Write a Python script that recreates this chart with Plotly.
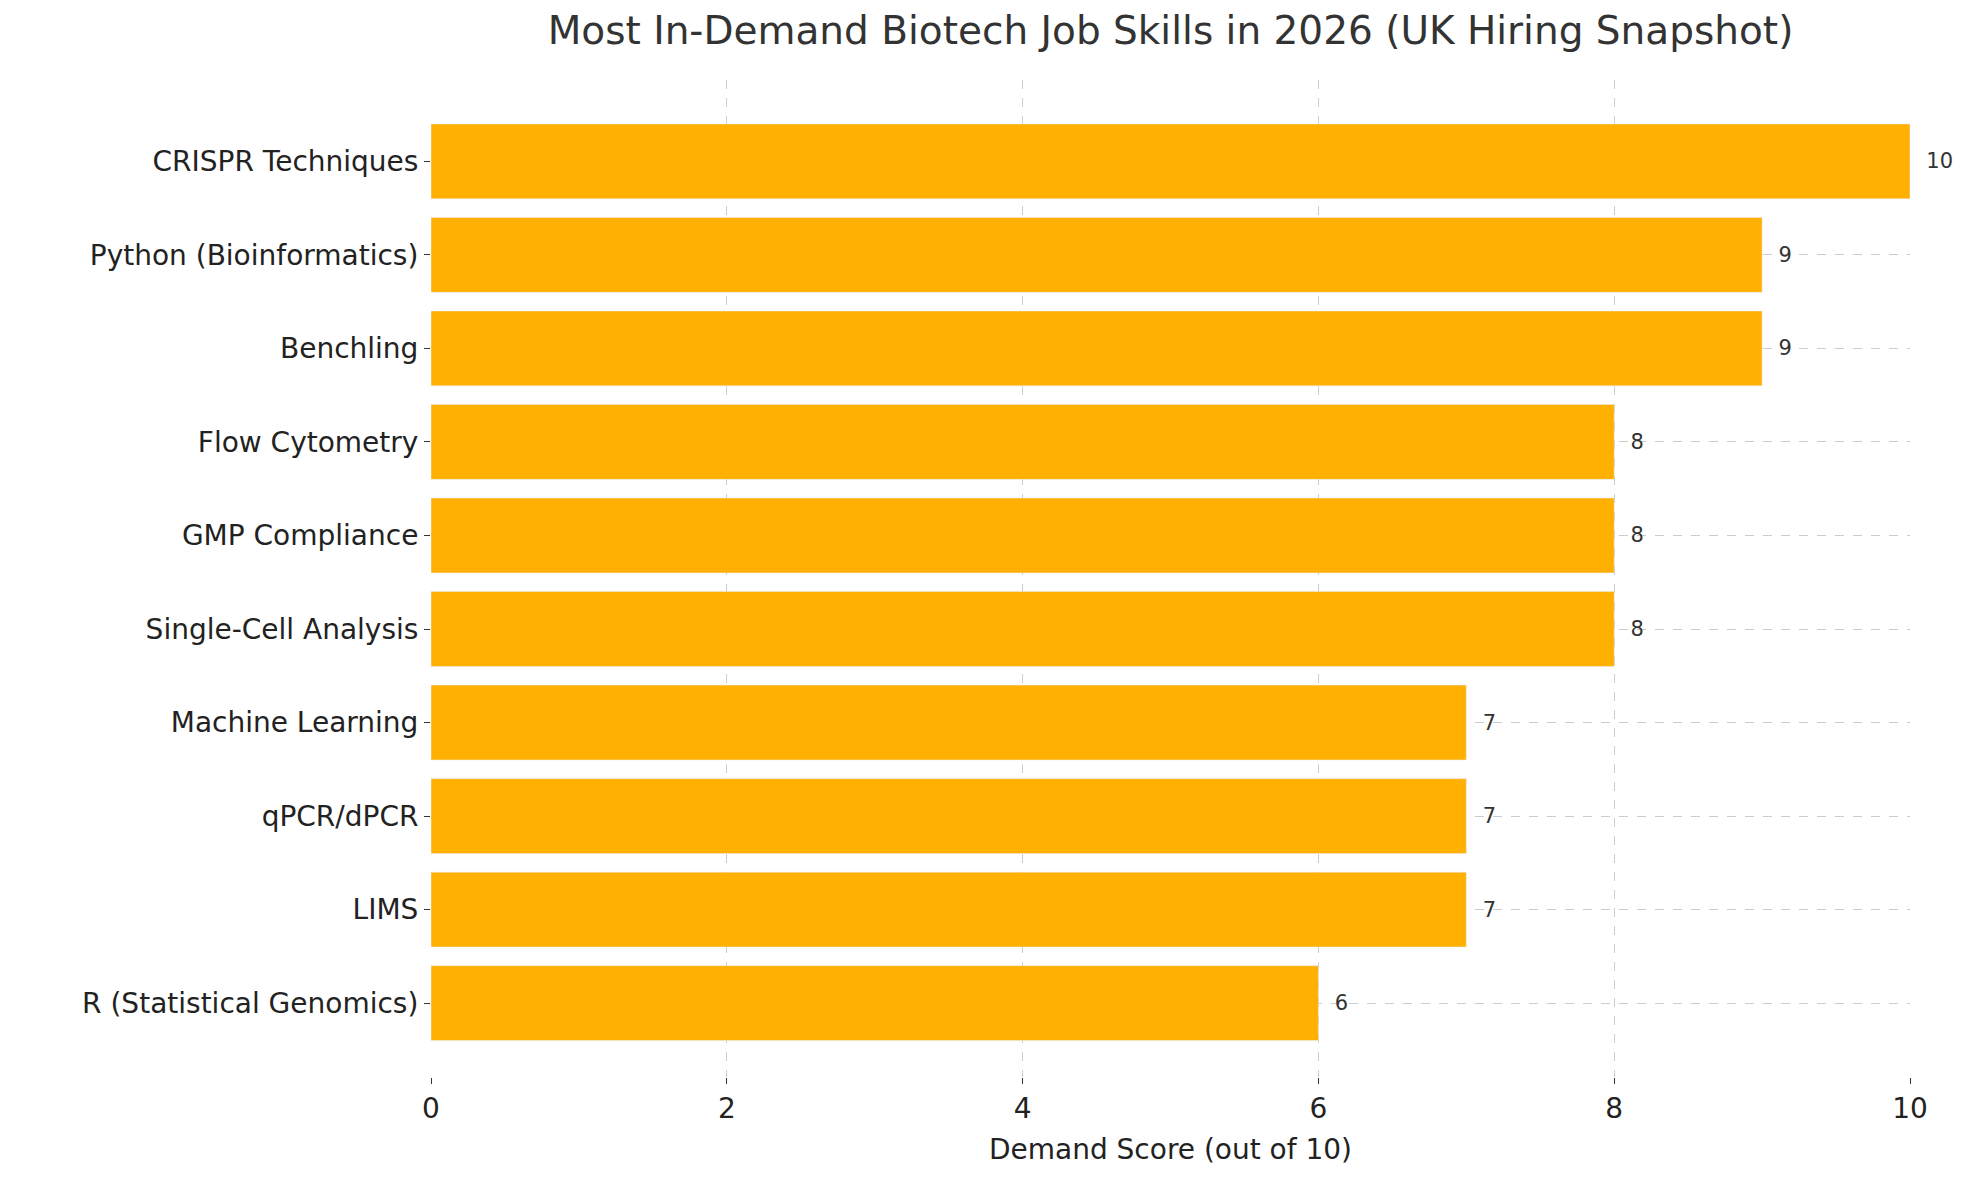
import plotly.graph_objects as go

skills = [
    "CRISPR Techniques",
    "Python (Bioinformatics)",
    "Benchling",
    "Flow Cytometry",
    "GMP Compliance",
    "Single-Cell Analysis",
    "Machine Learning",
    "qPCR/dPCR",
    "LIMS",
    "R (Statistical Genomics)",
]
scores = [10, 9, 9, 8, 8, 8, 7, 7, 7, 6]

fig = go.Figure(
    go.Bar(
        y=skills,
        x=scores,
        orientation="h",
        width=0.8,
        marker=dict(color="#FFB000"),
        text=["  " + str(s) for s in scores],
        textposition="outside",
        textfont=dict(size=21, color="#333333"),
        cliponaxis=False,
    )
)

fig.update_layout(
    width=1979,
    height=1180,
    plot_bgcolor="white",
    paper_bgcolor="white",
    font=dict(family="DejaVu Sans", color="#222222"),
    margin=dict(l=423, r=77, t=72, b=111),
    showlegend=False,
    title=dict(
        text="Most In-Demand Biotech Job Skills in 2026 (UK Hiring Snapshot)",
        x=0.5,
        xref="paper",
        xanchor="center",
        y=0.993,
        yanchor="top",
        font=dict(size=39, color="#333333"),
    ),
)

fig.update_xaxes(
    range=[0, 10],
    dtick=2,
    showgrid=True,
    gridcolor="#cccccc",
    griddash="dash",
    zeroline=False,
    ticks="outside",
    ticklen=6,
    tickcolor="#333333",
    tickfont=dict(size=28),
    title=dict(text="Demand Score (out of 10)", font=dict(size=28)),
)
fig.update_yaxes(
    autorange=False,
    range=[9.79, -0.87],
    showgrid=True,
    gridcolor="#cccccc",
    griddash="dash",
    ticks="outside",
    ticklen=6,
    tickcolor="#333333",
    tickfont=dict(size=28),
)

fig.write_html("out.html")
